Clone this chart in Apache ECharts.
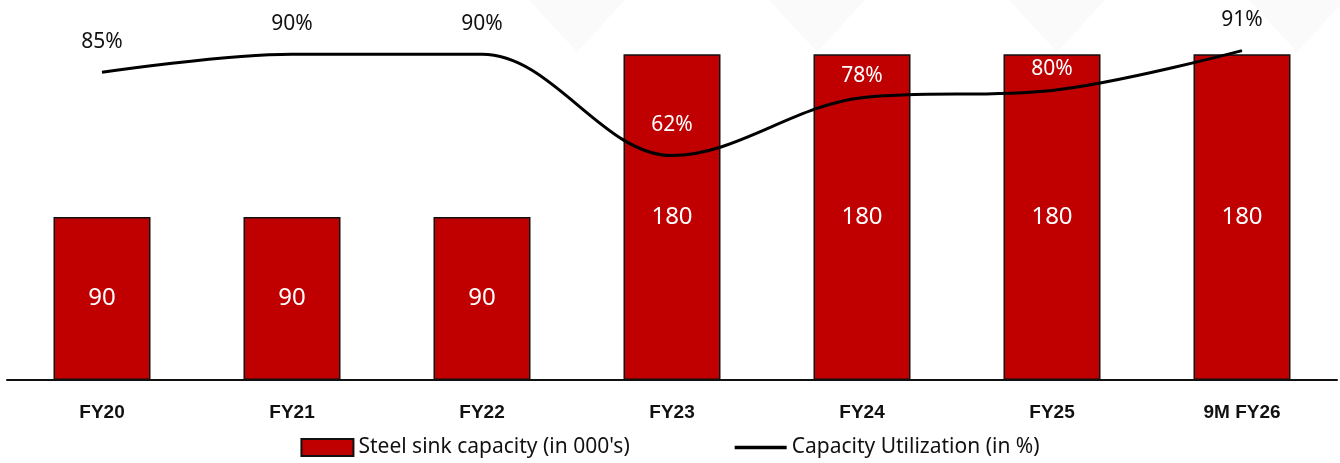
<!DOCTYPE html>
<html>
<head>
<meta charset="utf-8">
<script src="https://cdn.jsdelivr.net/npm/echarts@6/dist/echarts.min.js"></script>
<style>
  html, body { margin: 0; padding: 0; background: #ffffff; }
  #chart { width: 1340px; height: 463px; }
</style>
</head>
<body>
<div id="chart"></div>
<script>
var categories = ['FY20', 'FY21', 'FY22', 'FY23', 'FY24', 'FY25', '9M FY26'];
var capacity = [90, 90, 90, 180, 180, 180, 180];      // 000's
var utilization = [85, 90, 90, 62, 78, 80, 91];       // %

(function () {
  var myChart = echarts.init(document.getElementById('chart'));
  var font = "'Liberation Sans Narrow', 'Noto Sans', sans-serif";

  // labels that sit on top of a red bar are white
  var utilData = utilization.map(function (v, i) {
    var onBar = i >= 3 && i <= 5;
    return {
      value: v,
      label: { color: onBar ? '#ffffff' : '#111111', distance: (i === 4 || i === 5) ? 11 : 20 }
    };
  });

  // faint chevron watermark along the top (decoration only)
  var watermark = [577, 817, 1057, 1297].map(function (cx) {
    return {
      type: 'polygon',
      silent: true,
      z: -10,
      shape: { points: [[cx - 48, 0], [cx + 48, 0], [cx, 52]] },
      style: { fill: '#f3f4f5', opacity: 0.45 }
    };
  });

  var option = {
    animation: false,
    backgroundColor: '#ffffff',
    textStyle: { fontFamily: font },
    graphic: watermark,
    grid: { left: 7, right: 3, top: 18, bottom: 83 },
    legend: {
      bottom: 0,
      left: 'center',
      itemGap: 105,
      itemWidth: 52,
      itemHeight: 17,
      textStyle: { fontSize: 21, color: '#111111', fontFamily: font },
      data: [
        { name: "Steel sink capacity (in 000's)", icon: 'rect' },
        {
          name: 'Capacity Utilization (in %)',
          icon: 'path://M0,0 H56 V4 H0 Z',
          itemStyle: { color: '#000000', borderWidth: 0 }
        }
      ]
    },
    xAxis: {
      type: 'category',
      data: categories,
      axisTick: { show: false },
      axisLine: { lineStyle: { color: '#111111', width: 2 } },
      axisLabel: {
        color: '#111111',
        fontWeight: 'bold',
        fontSize: 19,
        margin: 23,
        fontFamily: "'Liberation Sans', 'Noto Sans', sans-serif"
      }
    },
    yAxis: [
      { type: 'value', min: 0, max: 200, show: false, splitLine: { show: false } },
      { type: 'value', min: 0, max: 100, show: false, splitLine: { show: false } }
    ],
    series: [
      {
        name: "Steel sink capacity (in 000's)",
        type: 'bar',
        data: capacity,
        barWidth: 97,
        itemStyle: { color: '#c00000', borderColor: '#111111', borderWidth: 1.5 },
        label: {
          show: true,
          position: 'inside',
          color: '#ffffff',
          fontSize: 24,
          fontFamily: font
        }
      },
      {
        name: 'Capacity Utilization (in %)',
        type: 'line',
        yAxisIndex: 1,
        data: utilData,
        smooth: 0.35,
        symbol: 'circle',
        symbolSize: 0.1,
        lineStyle: { color: '#000000', width: 3 },
        itemStyle: { color: '#000000' },
        label: {
          show: true,
          position: 'top',
          fontSize: 21,
          fontFamily: font,
          formatter: '{c}%'
        }
      }
    ]
  };
  myChart.setOption(option);
  window.addEventListener('resize', function () {
    myChart.resize();
  });
})();
</script>
</body>
</html>
